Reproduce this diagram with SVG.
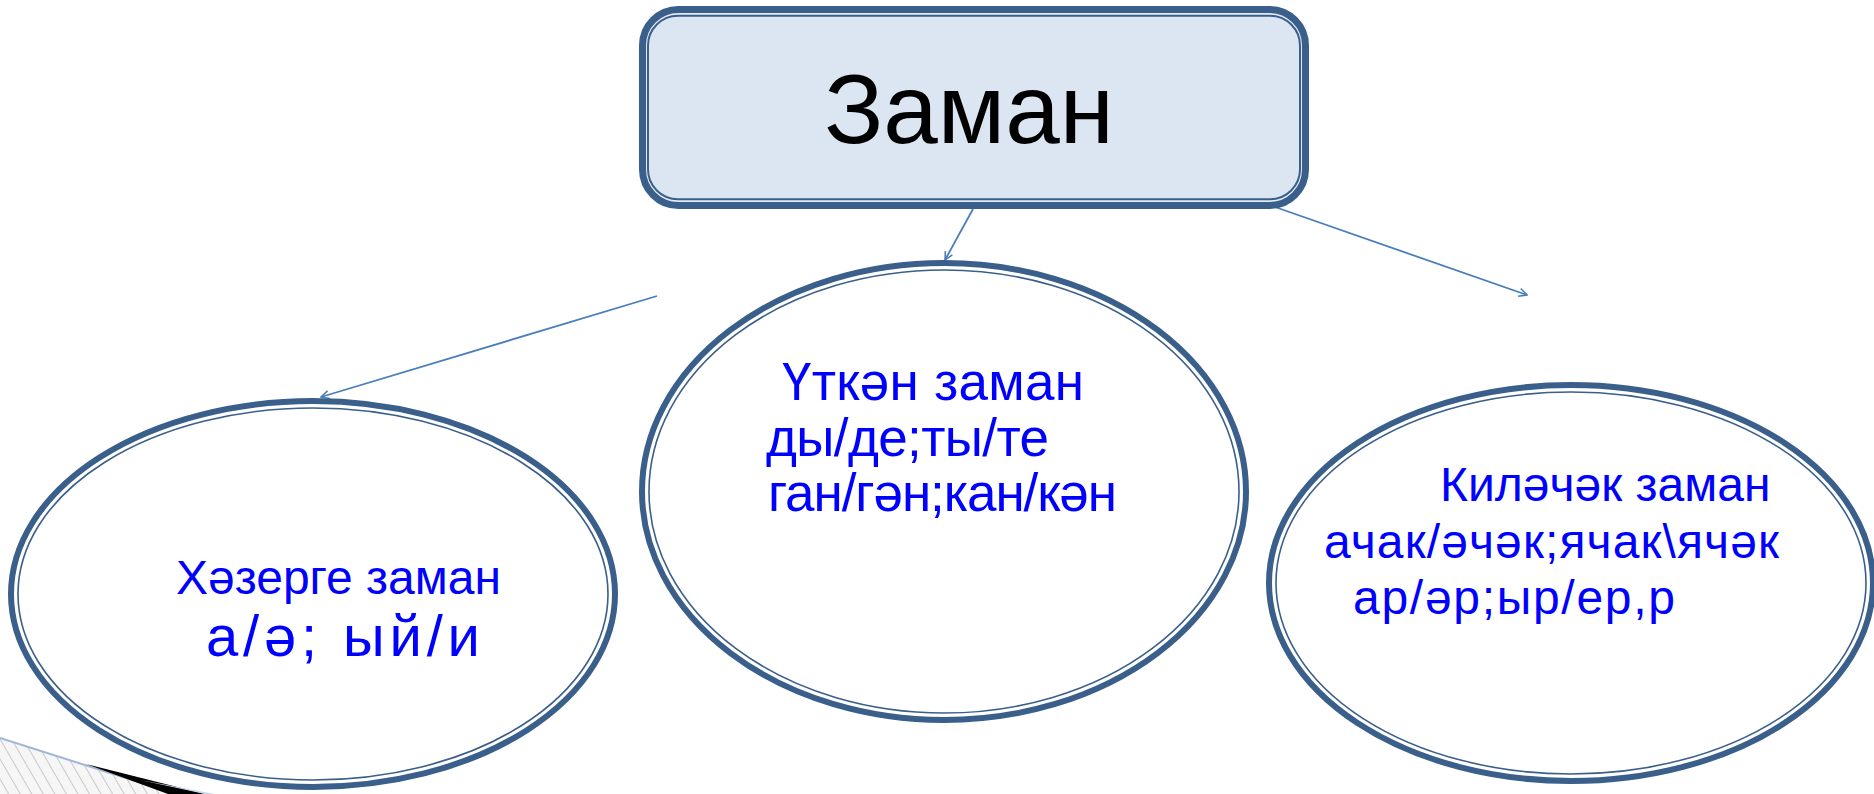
<svg xmlns="http://www.w3.org/2000/svg" width="1874" height="794" viewBox="0 0 1874 794">
<style>
.bg{fill:#ffffff}
.outer{fill:#ffffff;stroke:#3a5f8b;stroke-width:6}
.inner{fill:none;stroke:#3a5f8b;stroke-width:1.6}
.t{font-family:"Liberation Sans",Arial,sans-serif;font-size:48px;fill:#0000ff}
.tm{font-size:53px}
.tl{font-size:58px}
.title{font-family:"Liberation Sans",Arial,sans-serif;font-size:98px;fill:#000000}
.conn{stroke:#4a7ebb;stroke-width:1.8;fill:none;marker-end:url(#ah)}
</style>
<defs>
<marker id="ah" viewBox="0 0 10 10" refX="9" refY="5" markerWidth="10" markerHeight="10" markerUnits="userSpaceOnUse" orient="auto">
<path d="M1,1 L9,5 L1,9" fill="none" stroke="#4a7ebb" stroke-width="1.5"/>
</marker>
<pattern id="hatch" width="10" height="10" patternUnits="userSpaceOnUse" patternTransform="rotate(-30)">
<rect width="10" height="10" fill="#f6f6f6"/>
<line x1="0" y1="0" x2="0" y2="10" stroke="#9a9a9a" stroke-width="1"/>
</pattern>
</defs>
<rect class="bg" x="0" y="0" width="1874" height="794"/>

<g id="curl">
<polygon points="0,738 176,794 0,794" fill="url(#hatch)"/>
<line x1="0" y1="738" x2="176" y2="794" stroke="#9fb6d8" stroke-width="2"/>
<polygon points="86,764 205,794 168,794" fill="#000000"/>
<polygon points="140,780 215,794 205,794" fill="#c6d6ec"/>
</g>

<g id="connectors">
<line class="conn" x1="973" y1="209" x2="945" y2="260"/>
<line class="conn" x1="1275" y1="207" x2="1527" y2="295"/>
<line class="conn" x1="657" y1="296" x2="321" y2="397"/>
</g>

<g id="node-zaman">
<rect x="642.5" y="9.5" width="663" height="196" rx="36" fill="#e3ebf5" stroke="#3a5f8b" stroke-width="7"/>
<rect x="648" y="15.7" width="652" height="183.6" rx="30" fill="#dce6f2" stroke="#3a5f8b" stroke-width="2"/>
<text class="title" x="969" y="143" text-anchor="middle">Заман</text>
</g>

<g id="node-hazerge">
<ellipse class="outer" cx="313" cy="594" rx="302" ry="193"/>
<ellipse class="inner" cx="313" cy="594" rx="295" ry="186"/>
<text class="t" x="176" y="594">Хәзерге заман</text>
<text class="t tl" x="206" y="656" textLength="274" lengthAdjust="spacing">а/ә; ый/и</text>
</g>

<g id="node-utken">
<ellipse class="outer" cx="944" cy="491.5" rx="302" ry="228.5"/>
<ellipse class="inner" cx="944" cy="491.5" rx="295" ry="221.5"/>
<text class="t tm" x="782" y="400" textLength="302" lengthAdjust="spacing">Үткән заман</text>
<text class="t tm" x="766" y="456" textLength="283" lengthAdjust="spacing">ды/де;ты/те</text>
<text class="t tm" x="768" y="511" textLength="349" lengthAdjust="spacing">ган/гән;кан/кән</text>
</g>

<g id="node-kilechek">
<ellipse class="outer" cx="1571" cy="583" rx="302" ry="198"/>
<ellipse class="inner" cx="1571" cy="583" rx="295" ry="191"/>
<text class="t" x="1440" y="501">Киләчәк заман</text>
<text class="t" x="1324" y="558" textLength="455" lengthAdjust="spacing">ачак/әчәк;ячак\ячәк</text>
<text class="t" x="1353" y="614" textLength="322" lengthAdjust="spacing">ар/әр;ыр/ер,р</text>
</g>
</svg>
